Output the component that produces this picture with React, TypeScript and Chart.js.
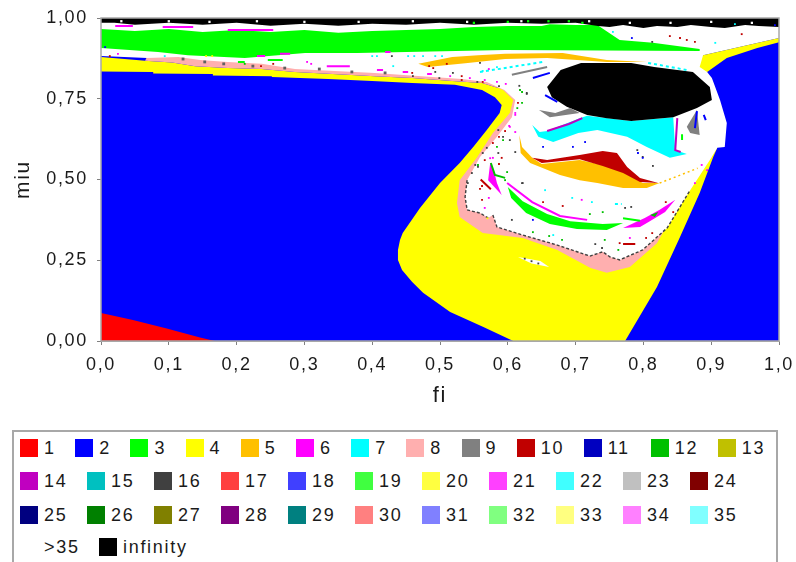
import React, { useEffect, useRef } from "react";
import { Chart, registerables } from "chart.js";

Chart.register(...registerables);

type Pt = [number, number] | null;

// X and Y axis ticks
const fiTicks = [0, 0.1, 0.2, 0.3, 0.4, 0.5, 0.6, 0.7, 0.8, 0.9, 1];
const miuTicks = [0, 0.25, 0.5, 0.75, 1];

// Filled regions, read as [fi, miu]
const period2Base: Pt[] = [[0, 0], [1, 0], [1, 1], [0, 1]];
const period1Corner: Pt[] = [[0, 0], [0, 0.087], [0.047, 0.065], [0.097, 0.039], [0.146, 0.011], [0.168, 0]];
const period4Main: Pt[] = [
  [0, 0.834], [0.077, 0.833], [0.077, 0.828], [0.165, 0.827], [0.165, 0.822], [0.252, 0.82], [0.252, 0.817],
  [0.335, 0.811], [0.4, 0.805], [0.459, 0.799], [0.522, 0.793], [0.562, 0.777], [0.581, 0.755], [0.591, 0.731],
  [0.588, 0.706], [0.569, 0.653], [0.549, 0.601], [0.529, 0.551], [0.5, 0.489], [0.4705, 0.412], [0.445, 0.334],
  [0.441, 0.313], [0.438, 0.282], [0.438, 0.251], [0.444, 0.22], [0.459, 0.183], [0.475, 0.149], [0.515, 0.09],
  [0.564, 0.043], [0.608, 0], [0.773, 0], [0.82, 0.167], [0.854, 0.322], [0.883, 0.458], [0.903, 0.57], [0.909, 0.598],
  [0.736, 0.87], [0.586, 0.783], [0.562, 0.799], [0.518, 0.805], [0.459, 0.814], [0.404, 0.82], [0.286, 0.833],
  [0.237, 0.842], [0.187, 0.845], [0.139, 0.851], [0.105, 0.862], [0.065, 0.868], [0, 0.879],
];
const period8Halo: Pt[] = [
  [0.065, 0.868], [0.105, 0.862], [0.139, 0.851], [0.187, 0.845], [0.237, 0.842], [0.286, 0.833], [0.404, 0.82],
  [0.459, 0.814], [0.518, 0.805], [0.562, 0.799], [0.586, 0.783], [0.593, 0.777], [0.608, 0.746], [0.603, 0.706],
  [0.578, 0.644], [0.555, 0.57], [0.529, 0.498], [0.525, 0.427], [0.529, 0.384], [0.563, 0.334], [0.622, 0.319],
  [0.673, 0.282], [0.722, 0.226], [0.746, 0.211], [0.78, 0.229], [0.82, 0.303], [0.85, 0.415], [0.879, 0.508],
  [0.901, 0.57], [0.736, 0.87], [0.068, 0.88],
];
const chaoticWhite: Pt[] = [
  [0, 0.882], [0.068, 0.876], [0.114, 0.879], [0.146, 0.87], [0.187, 0.864], [0.237, 0.858], [0.286, 0.842],
  [0.404, 0.83], [0.473, 0.82], [0.532, 0.811], [0.569, 0.802], [0.595, 0.777], [0.611, 0.746], [0.606, 0.693],
  [0.584, 0.632], [0.559, 0.57], [0.54, 0.498], [0.537, 0.446], [0.54, 0.406], [0.559, 0.396], [0.571, 0.381],
  [0.578, 0.39], [0.584, 0.353], [0.622, 0.328], [0.673, 0.297], [0.721, 0.263], [0.74, 0.276], [0.751, 0.26],
  [0.765, 0.251], [0.799, 0.282], [0.835, 0.35], [0.869, 0.467], [0.898, 0.56], [0.909, 0.598], [0.92, 0.601],
  [0.923, 0.675], [0.913, 0.746], [0.901, 0.814], [0.894, 0.833], [0.888, 0.885], [1, 0.938], [1, 1], [0, 1],
];
const chaoticEdge: Pt[] = [
  [0.54, 0.498], [0.537, 0.446], [0.54, 0.406], [0.559, 0.396], [0.571, 0.381], null, [0.578, 0.39], [0.584, 0.353],
  [0.622, 0.328], [0.673, 0.297], [0.721, 0.263], [0.74, 0.276], [0.751, 0.26], [0.765, 0.251], [0.799, 0.282],
  [0.835, 0.35], [0.869, 0.467],
];
const period4Wedge: Pt[] = [
  [0.883, 0.848], [0.888, 0.885], [1, 0.938], [1, 0.925], [0.968, 0.907], [0.923, 0.876], [0.894, 0.833],
];
const whiteLens: Pt[] = [[0.615, 0.26], [0.648, 0.248], [0.661, 0.229], [0.635, 0.24]];
const period3Band: Pt[] = [
  [0, 0.966], [0.05, 0.96], [0.1, 0.966], [0.15, 0.957], [0.2, 0.963], [0.25, 0.957], [0.3, 0.963], [0.35, 0.954],
  [0.4, 0.96], [0.45, 0.963], [0.5, 0.966], [0.55, 0.972], [0.6, 0.975], [0.65, 0.975], [0.662, 0.981], [0.7, 0.978],
  [0.732, 0.978], [0.765, 0.932], [0.814, 0.923], [0.883, 0.904], [0.883, 0.898], [0.596, 0.901], [0.378, 0.892],
  [0.301, 0.892], [0.212, 0.876], [0.128, 0.885], [0.084, 0.895], [0, 0.907],
];
const infinityTop: Pt[] = [
  [0, 1], [1, 1], [1, 0.972], [0.97, 0.975], [0.95, 0.978], [0.92, 0.969], [0.9, 0.972], [0.87, 0.978], [0.85, 0.972],
  [0.82, 0.975], [0.8, 0.969], [0.77, 0.978], [0.75, 0.972], [0.733, 0.975], [0.7, 0.985], [0.65, 0.982], [0.6, 0.985],
  [0.55, 0.979], [0.5, 0.985], [0.45, 0.979], [0.4, 0.982], [0.35, 0.976], [0.3, 0.982], [0.25, 0.976], [0.2, 0.985],
  [0.15, 0.979], [0.1, 0.985], [0.05, 0.979], [0.02, 0.985], [0, 0.985],
];
const period5Upper: Pt[] = [
  [0.468, 0.858], [0.518, 0.879], [0.556, 0.885], [0.596, 0.889], [0.681, 0.892], [0.746, 0.87], [0.805, 0.864],
  [0.746, 0.864], [0.658, 0.876], [0.596, 0.873], [0.541, 0.861], [0.482, 0.848],
];
const period7Blob: Pt[] = [
  [0.636, 0.669], [0.647, 0.647], [0.658, 0.65], [0.706, 0.69], [0.717, 0.697], [0.782, 0.681], [0.844, 0.693],
  [0.847, 0.591], [0.864, 0.579], [0.839, 0.567], [0.805, 0.601], [0.776, 0.632], [0.732, 0.653], [0.704, 0.644],
  [0.667, 0.616], [0.645, 0.632],
];
const infinityHole: Pt[] = [
  [0.658, 0.786], [0.678, 0.839], [0.708, 0.861], [0.782, 0.861], [0.816, 0.848], [0.873, 0.833], [0.898, 0.786],
  [0.901, 0.746], [0.879, 0.721], [0.844, 0.693], [0.782, 0.681], [0.746, 0.69], [0.717, 0.7], [0.687, 0.725], [0.665, 0.755],
];
const period9Left: Pt[] = [[0.646, 0.715], [0.67, 0.706], [0.692, 0.721], [0.706, 0.706], [0.662, 0.693]];
const period9Right: Pt[] = [[0.864, 0.663], [0.879, 0.715], [0.883, 0.638], [0.869, 0.644]];
const period5Lower: Pt[] = [
  [0.617, 0.638], [0.619, 0.582], [0.633, 0.551], [0.677, 0.514], [0.706, 0.498], [0.732, 0.489], [0.77, 0.474],
  [0.805, 0.474], [0.824, 0.489], [0.799, 0.489], [0.77, 0.523], [0.74, 0.545], [0.706, 0.56], [0.65, 0.548],
  [0.636, 0.567], [0.621, 0.601],
];
const period10Arc: Pt[] = [
  [0.636, 0.567], [0.658, 0.56], [0.706, 0.576], [0.74, 0.588], [0.761, 0.582], [0.776, 0.539], [0.795, 0.505],
  [0.822, 0.489], [0.795, 0.492], [0.77, 0.52], [0.74, 0.542], [0.706, 0.563], [0.65, 0.551],
];
const period3Arc: Pt[] = [
  [0.6, 0.477], [0.622, 0.433], [0.658, 0.393], [0.692, 0.371], [0.74, 0.362], [0.77, 0.365], [0.746, 0.344],
  [0.702, 0.347], [0.662, 0.362], [0.627, 0.396], [0.605, 0.443],
];
const period6Right: Pt[] = [
  [0.77, 0.35], [0.795, 0.353], [0.807, 0.368], [0.832, 0.399], [0.847, 0.437], [0.824, 0.406], [0.802, 0.381],
];
const period3Right: Pt[] = [[0.81, 0.39], [0.822, 0.399], [0.817, 0.384]];
const period6Left: Pt[] = [[0.574, 0.551], [0.571, 0.498], [0.591, 0.452], [0.584, 0.489], [0.58, 0.523]];

// Thin traces, read as [fi, miu]; null breaks a trace
const magentaTrace: Pt[] = [
  [0.599, 0.489], [0.636, 0.43], [0.677, 0.387], [0.717, 0.375], null,
  [0.021, 0.975], [0.047, 0.975], null, [0.091, 0.972], [0.136, 0.972], null, [0.187, 0.963], [0.254, 0.963], null,
  [0.333, 0.851], [0.367, 0.851], null, [0.407, 0.839], [0.416, 0.839], null, [0.445, 0.833], [0.453, 0.833], null,
  [0.481, 0.827], [0.488, 0.827], null, [0.23, 0.882], [0.242, 0.882], null, [0.264, 0.889], [0.279, 0.889], null,
  [0.419, 0.895], [0.427, 0.895],
];
const purpleTrace: Pt[] = [
  [0.658, 0.65], [0.69, 0.672], [0.71, 0.69], null, [0.85, 0.69], [0.847, 0.591], [0.855, 0.585],
];
const blueTrace: Pt[] = [
  [0.879, 0.712], [0.876, 0.659], null, [0.889, 0.7], [0.892, 0.684], null,
  [0.655, 0.761], [0.673, 0.74], null, [0.637, 0.814], [0.662, 0.83],
];
const grayTrace: Pt[] = [[0.606, 0.824], [0.658, 0.848]];
const cyanTrace: Pt[] = [
  [0.807, 0.861], [0.864, 0.839], null, [0.559, 0.833], [0.652, 0.864], null, [0.758, 0.424], [0.768, 0.424],
];
const redTrace: Pt[] = [[0.77, 0.3], [0.788, 0.3], null, [0.56, 0.5], [0.575, 0.47]];
const orangeTrace: Pt[] = [[0.824, 0.489], [0.85, 0.51], [0.88, 0.535]];
const greenTrace: Pt[] = [[0.77, 0.38], [0.795, 0.372], null, [0.857, 0.622], [0.857, 0.64], null, [0.202, 0.864], [0.212, 0.864], null, [0.246, 0.87], [0.268, 0.87]];
const darkGreenTrace: Pt[] = [[0.575, 0.551], [0.581, 0.514], [0.596, 0.505]];

// Isolated specks, read as [fi, miu]
const redDots: Pt[] = [
  [0.559, 0.471], [0.566, 0.56], [0.587, 0.548], [0.652, 0.43], [0.681, 0.418], [0.765, 0.303], [0.804, 0.319],
  [0.813, 0.334], [0.833, 0.43], [0.844, 0.399], [0.562, 0.48], [0.839, 0.944], [0.854, 0.938], [0.864, 0.932],
  [0.876, 0.926], [0.945, 0.95], [0.615, 0.737], [0.596, 0.65], [0.587, 0.632], [0.591, 0.567], [0.578, 0.613],
  [0.562, 0.437], [0.484, 0.851], [0.49, 0.845], [0.51, 0.858], [0.459, 0.83], [0.532, 0.82], [0.532, 0.808],
  [0.563, 0.802], [0.013, 0.882], [0.254, 0.858], [0.236, 0.851],
];
const magentaDots: Pt[] = [
  [0.572, 0.443], [0.709, 0.437], [0.78, 0.319], [0.876, 0.489], [0.886, 0.545], [0.894, 0.529], [0.574, 0.566],
  [0.603, 0.663], [0.611, 0.706], [0.597, 0.796], [0.566, 0.808], [0.611, 0.7], [0.602, 0.666], [0.611, 0.647],
  [0.578, 0.567], [0.566, 0.412], [0.304, 0.864], [0.31, 0.858], [0.515, 0.82], [0.544, 0.814], [0.584, 0.802],
  [0.572, 0.842], [0.025, 0.889],
];
const greenDots: Pt[] = [
  [0.596, 0.498], [0.637, 0.337], [0.661, 0.325], [0.68, 0.313], [0.721, 0.393], [0.74, 0.399], [0.743, 0.313],
  [0.763, 0.282], [0.618, 0.777], [0.621, 0.737], [0.614, 0.721], [0.593, 0.622], [0.584, 0.601], [0.556, 0.545],
  [0.599, 0.523], [0.621, 0.771], [0.212, 0.858],
];
const darkDots: Pt[] = [
  [0.556, 0.539], [0.606, 0.375], [0.622, 0.489], [0.729, 0.3], [0.739, 0.288], [0.773, 0.412], [0.782, 0.415],
  [0.814, 0.542], [0.617, 0.79], [0.628, 0.768], [0.586, 0.653], [0.593, 0.632], [0.791, 0.591], [0.799, 0.57],
  [0.813, 0.926], [0.625, 0.255], [0.635, 0.247], [0.645, 0.24], [0.628, 0.765], [0.603, 0.622], [0.569, 0.598],
  [0.563, 0.582], [0.552, 0.545], [0.547, 0.52], [0.541, 0.489], [0.586, 0.582], [0.611, 0.585], [0.621, 0.489],
  [0.46, 0.82], [0.493, 0.833], [0.499, 0.814], [0.519, 0.83], [0.555, 0.802], [0.587, 0.789], [0.559, 0.861],
  [0.429, 0.882],
];
const blueDots: Pt[] = [
  [0.637, 0.375], [0.792, 0.582], [0.799, 0.567], [0.696, 0.601], [0.652, 0.601], [0.714, 0.616], [0.783, 0.938],
  [0.994, 0.978], [0.006, 0.91],
];
const cyanDots: Pt[] = [
  [0.655, 0.467], [0.695, 0.443], [0.724, 0.43], [0.667, 0.328], [0.4, 0.882], [0.407, 0.882], [0.453, 0.882],
  [0.462, 0.882], [0.475, 0.882], [0.493, 0.882], [0.503, 0.882], [0.755, 0.957], [0.906, 0.923], [0.935, 0.981],
  [0.431, 0.851], [0.563, 0.836], [0.584, 0.848], [0.094, 0.882],
];
const whiteDots: Pt[] = [
  [0.03, 0.99], [0.1, 0.99], [0.16, 0.988], [0.23, 0.99], [0.3, 0.988], [0.38, 0.988], [0.46, 0.99], [0.54, 0.988],
  [0.62, 0.99], [0.72, 0.99], [0.78, 0.985], [0.84, 0.985], [0.9, 0.988], [0.96, 0.985],
];
const limeDots: Pt[] = [
  [0.55, 0.985], [0.6, 0.988], [0.63, 0.99], [0.66, 0.99], [0.69, 0.99], [0.71, 0.985],
];
const dashDots: Pt[] = [
  [0.121, 0.873], [0.153, 0.864], [0.181, 0.858], [0.224, 0.851], [0.271, 0.845], [0.322, 0.842], [0.37, 0.833], [0.419, 0.83],
];
const yellowDots: Pt[] = [[0.155, 0.882], [0.164, 0.882], [0.575, 0.78], [0.57, 0.38]];

// Legend
const legendRow1 = ["1", "2", "3", "4", "5", "6", "7", "8", "9", "10", "11", "12", "13"];
const legendRow2 = ["14", "15", "16", "17", "18", "19", "20", "21", "22", "23", "24"];
const legendRow3 = ["25", "26", "27", "28", "29", "30", "31", "32", "33", "34", "35"];
const legendRow4 = [">35", "infinity"];
const legendColors: Record<string, string> = {
  "1": "#ff0000", "2": "#0000ff", "3": "#00ff00", "4": "#ffff00", "5": "#ffc000", "6": "#ff00ff", "7": "#00ffff",
  "8": "#ffafaf", "9": "#808080", "10": "#c00000", "11": "#0000c0", "12": "#00c000", "13": "#c0c000",
  "14": "#c000c0", "15": "#00c0c0", "16": "#404040", "17": "#ff4040", "18": "#4040ff", "19": "#40ff40",
  "20": "#ffff40", "21": "#ff40ff", "22": "#40ffff", "23": "#c0c0c0", "24": "#800000",
  "25": "#000080", "26": "#008000", "27": "#808000", "28": "#800080", "29": "#008080", "30": "#ff8080",
  "31": "#8080ff", "32": "#80ff80", "33": "#ffff80", "34": "#ff80ff", "35": "#80ffff",
  ">35": "#ffffff", infinity: "#000000",
};

const FONT = '"Liberation Sans", Arial, sans-serif';
const SPACING = "1.7px";
const INK = "#1a1a1a";

const toXY = (pts: Pt[]) => pts.map((p) => (p ? { x: p[0], y: p[1] } : { x: NaN, y: NaN }));

const region = (data: Pt[], color: string) => ({
  data: toXY(data), showLine: true, fill: "shape", borderWidth: 0, borderColor: color,
  backgroundColor: color, pointRadius: 0,
});
const trace = (data: Pt[], color: string, width = 2, dash: number[] = []) => ({
  data: toXY(data), showLine: true, fill: false, borderWidth: width, borderColor: color,
  borderDash: dash, pointRadius: 0, spanGaps: false,
});
const specks = (data: Pt[], color: string, radius = 1.3) => ({
  data: toXY(data), showLine: false, pointStyle: "rect", pointRadius: radius, pointBorderWidth: 0,
  backgroundColor: color, pointBackgroundColor: color,
});

function buildDatasets() {
  const painted = [
    region(period2Base, "#0000ff"),
    region(period1Corner, "#ff0000"),
    region(period4Main, "#ffff00"),
    region(period8Halo, "#ffafaf"),
    region(chaoticWhite, "#ffffff"),
    trace(chaoticEdge, "#404040", 1.4, [3, 2]),
    region(period4Wedge, "#ffff00"),
    region(whiteLens, "#ffffff"),
    region(period3Band, "#00ff00"),
    region(infinityTop, "#000000"),
    region(period5Upper, "#ffc000"),
    region(period7Blob, "#00ffff"),
    region(infinityHole, "#000000"),
    region(period9Left, "#808080"),
    region(period9Right, "#808080"),
    region(period5Lower, "#ffc000"),
    region(period10Arc, "#c00000"),
    region(period3Arc, "#00ff00"),
    region(period6Right, "#ff00ff"),
    region(period3Right, "#00c000"),
    region(period6Left, "#ff00ff"),
    trace(magentaTrace, "#ff00ff"),
    trace(purpleTrace, "#c000c0"),
    trace(blueTrace, "#0000ff"),
    trace(grayTrace, "#808080"),
    trace(cyanTrace, "#00ffff", 2, [3, 3]),
    trace(redTrace, "#c00000"),
    trace(orangeTrace, "#ffc000", 1.5, [2, 3]),
    trace(greenTrace, "#00ff00"),
    trace(darkGreenTrace, "#00c000"),
    specks(redDots, "#c00000"),
    specks(magentaDots, "#ff00ff"),
    specks(greenDots, "#00c000"),
    specks(darkDots, "#404040"),
    specks(blueDots, "#0000ff"),
    specks(cyanDots, "#00ffff"),
    specks(whiteDots, "#ffffff", 1.6),
    specks(limeDots, "#00ff00", 1.6),
    specks(dashDots, "#606060", 2),
    specks(yellowDots, "#ffff00"),
  ];
  // Chart.js paints the lowest "order" last, so later layers go on top.
  return painted.map((d, i) => ({ ...d, order: -i }));
}

const chartFrame = {
  id: "chartFrame",
  beforeDraw(chart: any) {
    chart.ctx.letterSpacing = SPACING;
  },
  afterDatasetsDraw(chart: any) {
    const { ctx, chartArea: a } = chart;
    ctx.save();
    ctx.strokeStyle = "#a8a8a8";
    ctx.lineWidth = 1.5;
    ctx.strokeRect(a.left, a.top, a.right - a.left, a.bottom - a.top);
    ctx.restore();
  },
};

function LegendRow({ labels, top }: { labels: string[]; top: number }) {
  return (
    <div style={{ position: "absolute", left: 20, top, display: "flex", height: 18, alignItems: "center" }}>
      {labels.map((label) => (
        <div
          key={label}
          style={{
            display: "flex",
            alignItems: "center",
            width: label.length === 1 ? 55.2 : label === ">35" ? 79 : 67,
          }}
        >
          <span style={{ width: 18, height: 18, background: legendColors[label], flex: "none" }} />
          <span style={{ marginLeft: 6, whiteSpace: "nowrap" }}>{label}</span>
        </div>
      ))}
    </div>
  );
}

export default function App() {
  const ref = useRef<HTMLCanvasElement>(null);
  useEffect(() => {
    const chart = new Chart(ref.current as HTMLCanvasElement, {
      type: "scatter",
      data: { datasets: buildDatasets() as any },
      plugins: [chartFrame],
      options: {
        animation: false,
        responsive: false,
        devicePixelRatio: 1,
        layout: { autoPadding: false, padding: { left: 0, right: 17, top: 18, bottom: 0 } },
        plugins: { legend: { display: false }, tooltip: { enabled: false } },
        scales: {
          x: {
            type: "linear",
            min: 0,
            max: 1,
            afterFit: (s: any) => { s.height = 69; s.paddingRight = 0; s.paddingLeft = 0; },
            afterBuildTicks: (s: any) => { s.ticks = fiTicks.map((value) => ({ value })); },
            grid: { drawOnChartArea: false, tickLength: 4, tickColor: "#808080", color: "#808080" },
            border: { color: "#a8a8a8" },
            ticks: {
              autoSkip: false, maxRotation: 0, padding: 9, color: INK,
              font: { family: FONT, size: 18 },
              callback: (v: any) => Number(v).toFixed(1).replace(".", ","),
            },
            title: { display: true, text: "fi", color: INK, font: { family: FONT, size: 22 }, padding: { top: 0, bottom: 1 } },
          },
          y: {
            type: "linear",
            min: 0,
            max: 1,
            afterFit: (s: any) => { s.width = 101; s.paddingTop = 0; s.paddingBottom = 0; },
            afterBuildTicks: (s: any) => { s.ticks = miuTicks.map((value) => ({ value })); },
            grid: { drawOnChartArea: false, tickLength: 4, tickColor: "#808080", color: "#808080" },
            border: { color: "#a8a8a8" },
            ticks: {
              autoSkip: false, padding: 9, color: INK,
              font: { family: FONT, size: 18 },
              callback: (v: any) => Number(v).toFixed(2).replace(".", ","),
            },
            title: { display: true, text: "miu", color: INK, font: { family: FONT, size: 21 }, padding: { top: 11, bottom: 0 } },
          },
        },
      } as any,
    });
    return () => chart.destroy();
  }, []);

  return (
    <div
      style={{
        position: "fixed", left: 0, top: 0, width: 796, height: 562, overflow: "hidden", background: "#fff",
        filter: "blur(0.45px)",
      }}
    >
      <canvas ref={ref} width={796} height={410} style={{ position: "absolute", left: 0, top: 0, width: 796, height: 410 }} />
      <div
        style={{
          position: "absolute", left: 12, top: 430, width: 762, height: 160, border: "2px solid #a8a8a8",
          boxSizing: "content-box",
        }}
      />
      <div style={{ fontFamily: FONT, fontSize: 18, letterSpacing: SPACING, color: INK }}>
        <LegendRow labels={legendRow1} top={439} />
        <LegendRow labels={legendRow2} top={472} />
        <LegendRow labels={legendRow3} top={506} />
        <LegendRow labels={legendRow4} top={538} />
      </div>
    </div>
  );
}
